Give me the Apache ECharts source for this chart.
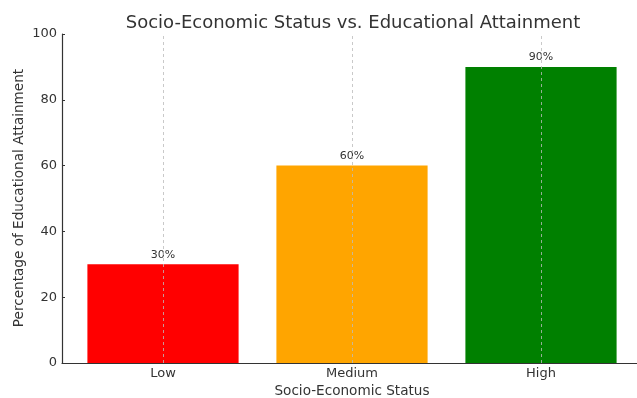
<!DOCTYPE html>
<html><head><meta charset="utf-8">
<script src="https://cdn.jsdelivr.net/npm/echarts@6/dist/echarts.min.js"></script>
<style>html,body{margin:0;padding:0;background:#fff}#c{width:637px;height:398px}</style>
</head><body><div id="c"></div>
<script>
const categories = ['Low', 'Medium', 'High'];
const values = [30, 60, 90];
const barColors = ['#ff0000', '#ffa500', '#008000'];
const yTicks = [0, 20, 40, 60, 80, 100];

const font = 'DejaVu Sans';
const chart = echarts.init(document.getElementById('c'), null, {renderer: 'canvas'});
chart.setOption({
  animation: false,
  backgroundColor: '#fff',
  textStyle: {fontFamily: font},
  title: {
    text: 'Socio-Economic Status vs. Educational Attainment',
    left: 348, top: 9, textAlign: 'center',
    textStyle: {fontFamily: font, fontSize: 18, fontWeight: 'normal', color: '#333'}
  },
  graphic: [{
    type: 'text', x: 19, y: 198, rotation: Math.PI / 2,
    style: {text: 'Percentage of Educational Attainment', fontFamily: font, fontSize: 13.6,
            fill: '#333', align: 'center', verticalAlign: 'middle'}
  }],
  grid: [
    {left: 62, top: 34, width: 582, height: 329, containLabel: false, outerBoundsMode: 'none'},
    {left: 68.5, top: 34, width: 567, height: 329, containLabel: false, outerBoundsMode: 'none'}
  ],
  xAxis: [
    {gridIndex: 0, type: 'value', min: 0, max: 1,
     axisLine: {show: true, lineStyle: {color: '#333', width: 1.2}},
     axisTick: {show: false}, axisLabel: {show: false}, splitLine: {show: false}},
    {gridIndex: 1, type: 'category', data: categories,
     axisLine: {show: false},
     axisTick: {show: true, inside: true, length: 3, alignWithLabel: true, lineStyle: {color: '#333'}},
     axisLabel: {fontFamily: font, fontSize: 13, color: '#333', margin: 4},
     splitLine: {show: false},
     name: 'Socio-Economic Status', nameLocation: 'middle', nameGap: 21,
     nameTextStyle: {fontFamily: font, fontSize: 13.6, color: '#333'}}
  ],
  yAxis: [
    {gridIndex: 0, type: 'value', min: yTicks[0], max: yTicks[yTicks.length - 1], interval: 20,
     axisLine: {show: true, lineStyle: {color: '#333', width: 1.2}},
     axisTick: {show: true, inside: true, length: 3, lineStyle: {color: '#333'}},
     axisLabel: {fontFamily: font, fontSize: 13, color: '#333', margin: 5},
     splitLine: {show: false}},
    {gridIndex: 1, type: 'value', min: 0, max: 100, show: false}
  ],
  series: [{
    type: 'bar', xAxisIndex: 1, yAxisIndex: 1,
    barWidth: '80%',
    data: values.map((v, i) => ({value: v, itemStyle: {color: barColors[i]}})),
    label: {show: true, position: 'top', distance: 4, formatter: p => p.value + '%',
            fontFamily: font, fontSize: 11, color: '#333'},
    markLine: {
      silent: true, symbol: 'none', label: {show: false},
      lineStyle: {type: [3, 3], color: '#bbb', width: 0.8},
      data: categories.map(c => ({xAxis: c}))
    }
  }]
});
</script></body></html>
